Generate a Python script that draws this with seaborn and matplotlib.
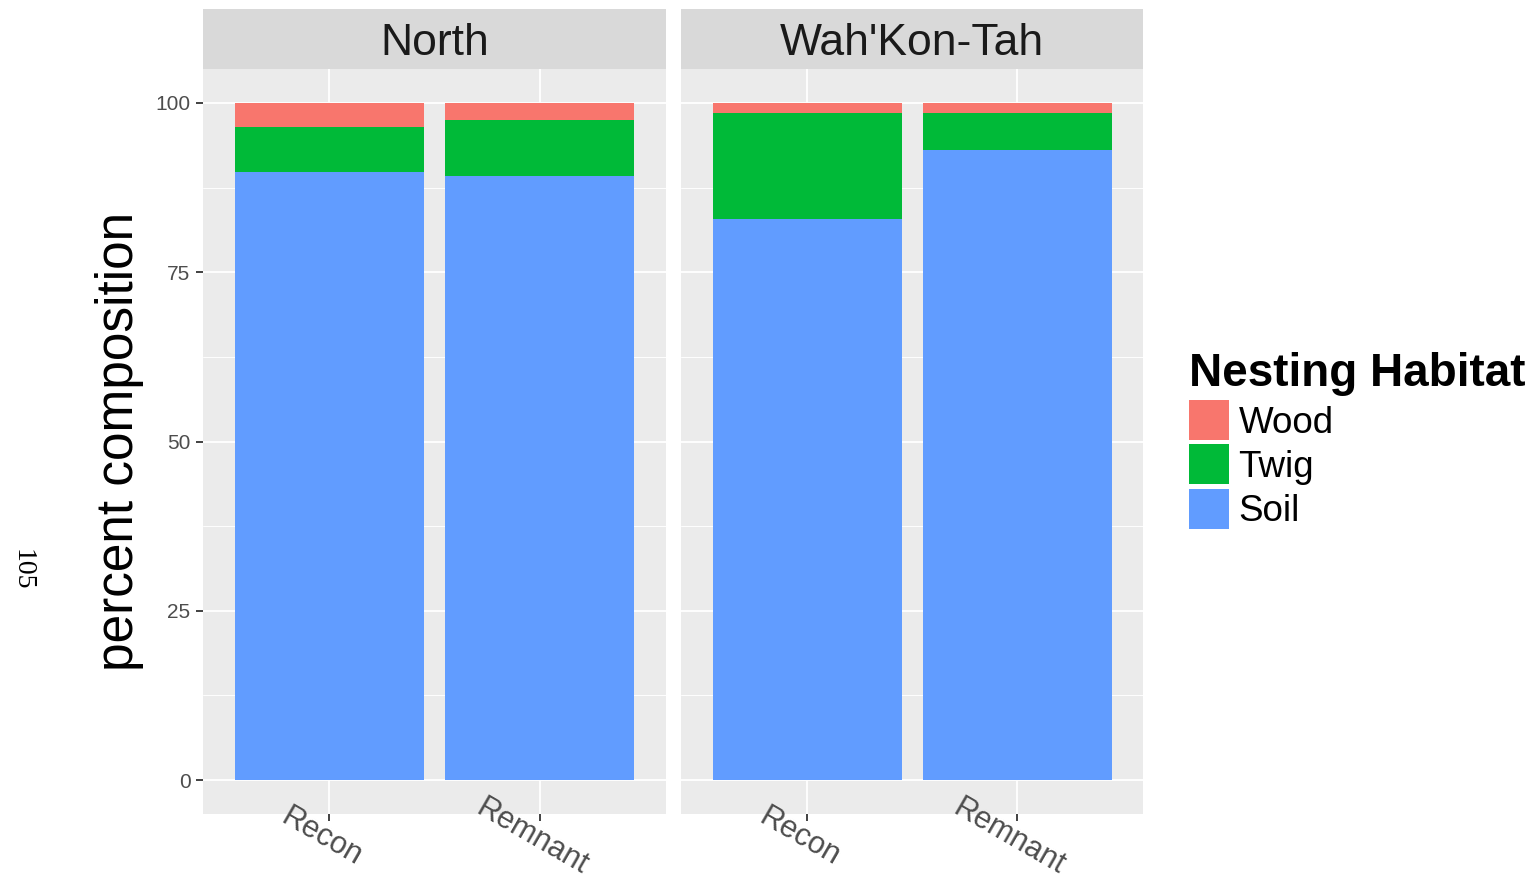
import matplotlib
matplotlib.use("Agg")
import matplotlib.pyplot as plt
from matplotlib.patches import Patch, Rectangle
from matplotlib.legend_handler import HandlerPatch
from matplotlib.ticker import FixedLocator
import numpy as np
import pandas as pd
import seaborn as sns

# Nest composition (percent) by site and prairie type
sites = ["North", "Wah'Kon-Tah"]
treatments = ["Recon", "Remnant"]
habitats = ["Wood", "Twig", "Soil"]
habitat_colors = ["#F8766D", "#00BA38", "#619CFF"]

soil = [89.8, 89.2, 82.9, 93.1]
twig = [6.7, 8.2, 15.6, 5.45]
wood = [3.5, 2.6, 1.5, 1.45]
row_site = ["North", "North", "Wah'Kon-Tah", "Wah'Kon-Tah"]
row_treatment = ["Recon", "Remnant", "Recon", "Remnant"]

y_ticks = [0, 25, 50, 75, 100]
y_minor = [12.5, 37.5, 62.5, 87.5]

df = pd.DataFrame({"site": row_site, "treatment": row_treatment,
                   "Soil": soil, "Twig": twig, "Wood": wood})
# cumulative heights for stacking (Soil at the bottom, Wood on top)
df["top_Soil"] = df["Soil"]
df["top_Twig"] = df["Soil"] + df["Twig"]
df["top_Wood"] = df["Soil"] + df["Twig"] + df["Wood"]

sns.set_theme(style="white")
plt.rcParams["font.family"] = ["Liberation Sans", "DejaVu Sans"]
plt.rcParams["text.color"] = "black"

W, H = 1532, 881
fig = plt.figure(figsize=(W / 100, H / 100), dpi=100)


def fbox(x0, y0, x1, y1):
    return [x0 / W, 1 - y1 / H, (x1 - x0) / W, (y1 - y0) / H]


panel_x = [(203, 666), (681, 1143)]
axes = []
for i, site in enumerate(sites):
    x0, x1 = panel_x[i]
    ax = fig.add_axes(fbox(x0, 69, x1, 814))
    ax.set_facecolor("#EBEBEB")
    sub = df[df["site"] == site]
    for hab, col in zip(habitats, habitat_colors):
        sns.barplot(data=sub, x="treatment", y="top_" + hab, order=treatments,
                    color=col, saturation=1, width=0.9, errorbar=None,
                    linewidth=0, ax=ax, zorder=2)
    ax.set_xlim(-0.6, 1.6)
    ax.set_ylim(-5, 105)
    ax.set_yticks(y_ticks)
    ax.yaxis.set_minor_locator(FixedLocator(y_minor))
    ax.set_axisbelow(True)
    ax.grid(which="major", color="white", linewidth=1.3, zorder=0)
    ax.grid(which="minor", axis="y", color="white", linewidth=0.65, zorder=0)
    for s in ax.spines.values():
        s.set_visible(False)
    ax.tick_params(which="minor", length=0)
    ax.tick_params(which="major", bottom=True, left=True, length=5, width=1.3,
                   color="#333333", direction="out", labelcolor="#4D4D4D")
    ax.tick_params(axis="y", labelsize=15, pad=4)
    ax.tick_params(axis="x", pad=2.5)
    ax.set_xlabel("")
    ax.set_ylabel("")
    for lab in ax.get_xticklabels():
        lab.set_rotation(-30)
        lab.set_rotation_mode("anchor")
        lab.set_ha("center")
        lab.set_va("top")
        lab.set_fontsize(22)
    if i > 0:
        ax.tick_params(axis="y", left=False, labelleft=False)
    axes.append(ax)

    # facet strip
    sax = fig.add_axes(fbox(x0, 9, x1, 69))
    sax.set_facecolor("#D9D9D9")
    sax.set_xticks([])
    sax.set_yticks([])
    for s in sax.spines.values():
        s.set_visible(False)
    sax.text(0.5, 0.42, site, ha="center", va="center", fontsize=32,
             color="#1A1A1A", transform=sax.transAxes)

fig.text(120 / W, 1 - 441 / H, "percent composition", rotation=90,
         ha="center", va="center", fontsize=37, color="black")

fig.text(22 / W, 1 - 570 / H, "105", rotation=-90, ha="center", va="center",
         fontsize=20, color="black", family=["Liberation Serif", "DejaVu Serif"])


def square_key(legend, orig_handle, xdescent, ydescent, width, height, fontsize):
    side = 28.8
    return Rectangle((-xdescent, -ydescent + (height - side) / 2), width, side)


handles = [Patch(facecolor=c, edgecolor="none") for c in habitat_colors]
leg = fig.legend(handles, habitats, title="Nesting Habitat",
                 loc="upper left", bbox_to_anchor=(1182 / W, 1 - 345 / H),
                 frameon=False, fontsize=26.5, handlelength=1.087,
                 handleheight=1.196, handletextpad=0.25, labelspacing=0.136,
                 borderaxespad=0, borderpad=0.2,
                 handler_map={Patch: HandlerPatch(patch_func=square_key)},
                 title_fontproperties={"weight": "bold", "size": 33})
leg._legend_box.align = "left"
leg.get_title().set_color("black")
for t in leg.get_texts():
    t.set_color("black")

fig.savefig("out.png", dpi=100)
